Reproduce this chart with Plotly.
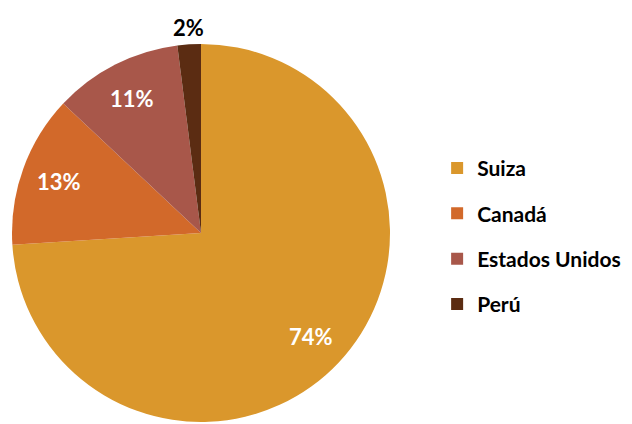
import math
import plotly.graph_objects as go

paises = ['Suiza', 'Canadá', 'Estados Unidos', 'Perú']
porcentajes = [74, 13, 11, 2]
colores = ['#DA972C', '#D2692A', '#A8574A', '#5B2C12']

W, H = 632, 424
# the page body adds an 8px margin, so positions are shifted back by it
cx, cy, r = 193, 225, 189  # pie centre and radius in px

fig = go.Figure()
fig.add_trace(go.Pie(
    labels=paises,
    values=porcentajes,
    sort=False,
    direction='clockwise',
    rotation=0,
    marker=dict(colors=colores, line=dict(width=0)),
    textinfo='none',
    domain=dict(x=[(cx - r) / W, (cx + r) / W], y=[1 - (cy + r) / H, 1 - (cy - r) / H]),
    showlegend=False,
    hoverinfo='label+percent',
))

# percentage labels at the slice bisectors (small slice goes outside)
total = sum(porcentajes)
acum = 0
for v in porcentajes:
    ang = 2 * math.pi * (acum + v / 2) / total
    acum += v
    fuera = v / total < 0.05
    dist = r + 17 if fuera else 0.8 * r
    fig.add_annotation(
        x=(cx + dist * math.sin(ang)) / W,
        y=1 - (cy - dist * math.cos(ang)) / H,
        xref='paper', yref='paper', xanchor='center', yanchor='middle',
        showarrow=False,
        text=f'{v}%',
        font=dict(family='Lato', size=22, color='black' if fuera else 'white', weight='bold'),
    )

# legend entries, one group each so the gap can be set
for nombre, color in zip(paises, colores):
    fig.add_trace(go.Scatter(
        x=[None], y=[None], mode='markers', name=nombre, legendgroup=nombre,
        marker=dict(symbol='square', size=12, color=color),
    ))

fig.update_layout(
    width=W, height=H,
    margin=dict(l=0, r=0, t=0, b=0),
    paper_bgcolor='white', plot_bgcolor='white',
    xaxis=dict(visible=False), yaxis=dict(visible=False),
    legend=dict(
        x=0.679, y=0.670, xanchor='left', yanchor='top',
        font=dict(family='Lato', size=21, color='black', weight='bold'),
        traceorder='grouped', tracegroupgap=15,
        itemwidth=30,
    ),
)

fig.write_html("out.html")
